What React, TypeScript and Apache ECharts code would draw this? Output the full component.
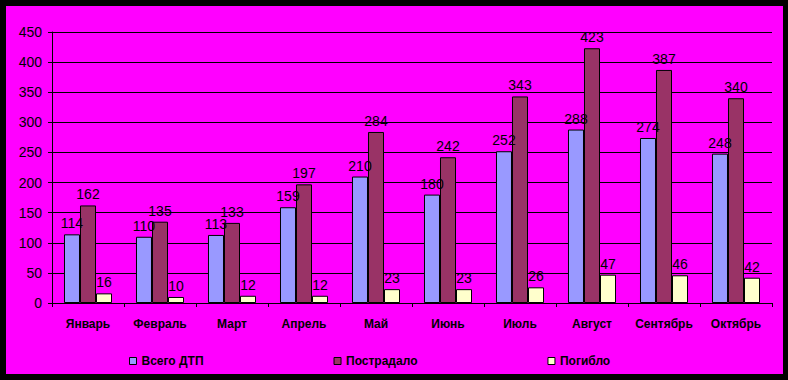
import React, { useEffect, useRef } from "react";
import * as echarts from "echarts";

const categories = ["Январь", "Февраль", "Март", "Апрель", "Май", "Июнь", "Июль", "Август", "Сентябрь", "Октябрь"];
const seriesNames = ["Всего ДТП", "Пострадало", "Погибло"];
const totalAccidents = [114, 110, 113, 159, 210, 180, 252, 288, 274, 248];
const injured = [162, 135, 133, 197, 284, 242, 343, 423, 387, 340];
const killed = [16, 10, 12, 12, 23, 23, 26, 47, 46, 42];
const colors = ["#9999FF", "#993366", "#FFFFCC"];

const FONT = "Arial, 'Liberation Sans', sans-serif";

export default function App() {
  const ref = useRef<HTMLDivElement>(null);
  useEffect(() => {
    document.body.style.margin = "0";
    const chart = echarts.init(ref.current!, undefined, { renderer: "svg" });
    const data = [totalAccidents, injured, killed];
    chart.setOption({
      animation: false,
      backgroundColor: "#000000",
      graphic: [
        { type: "rect", z: -10, silent: true, shape: { x: 6, y: 6, width: 777, height: 368 }, style: { fill: "#FF00FF" } },
      ],
      grid: { left: 52, right: 16, top: 32, bottom: 77 },
      legend: {
        left: 124,
        top: 350,
        itemWidth: 7,
        itemHeight: 7,
        itemGap: 130,
        icon: "rect",
        data: seriesNames.map((n, i) => ({ name: n, itemStyle: { color: colors[i], borderColor: "#000", borderWidth: 1 } })),
        textStyle: { fontFamily: FONT, fontWeight: "bold", fontSize: 12, color: "#000" },
      },
      xAxis: {
        type: "category",
        data: categories,
        axisLine: { lineStyle: { color: "#000", width: 1 } },
        axisTick: { show: true, length: 4, lineStyle: { color: "#000" } },
        axisLabel: { interval: 0, color: "#000", fontFamily: FONT, fontWeight: "bold", fontSize: 12, margin: 15 },
      },
      yAxis: {
        type: "value",
        min: 0,
        max: 450,
        interval: 50,
        axisLine: { show: true, lineStyle: { color: "#000", width: 1 } },
        axisTick: { show: true, length: 4, lineStyle: { color: "#000" } },
        splitLine: { lineStyle: { color: "#000", width: 1 } },
        axisLabel: { color: "#000", fontFamily: FONT, fontSize: 14, margin: 10 },
      },
      series: seriesNames.map((n, i) => ({
        name: n,
        type: "bar",
        data: data[i],
        barGap: "0%",
        barCategoryGap: "33.3%",
        itemStyle: { color: colors[i], borderColor: "#000", borderWidth: 1 },
        label: { show: true, position: "top", distance: 4, color: "#000", fontFamily: FONT, fontSize: 14 },
      })),
    });
    return () => chart.dispose();
  }, []);
  return <div ref={ref} style={{ width: 788, height: 380 }} />;
}
